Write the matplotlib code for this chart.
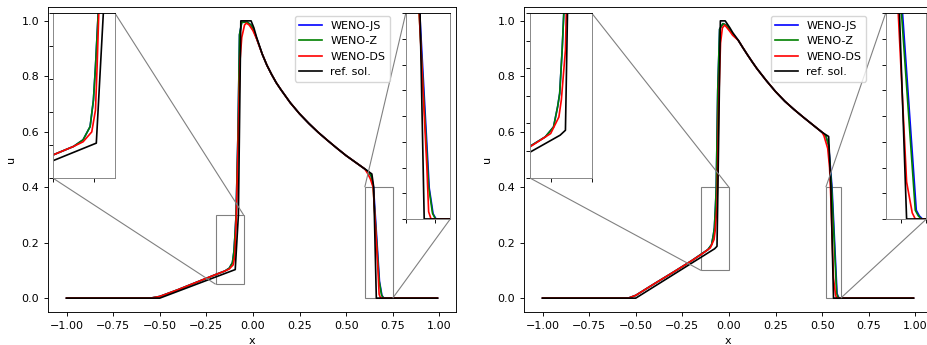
import matplotlib
matplotlib.use("Agg")
import matplotlib.pyplot as plt
import numpy as np
from mpl_toolkits.axes_grid1.inset_locator import mark_inset

plt.rcParams['font.size'] = 8
plt.rcParams['lines.linewidth'] = 1.2
plt.rcParams['axes.linewidth'] = 0.65
plt.rcParams['xtick.major.size'] = 2.8
plt.rcParams['ytick.major.size'] = 2.8
plt.rcParams['xtick.major.width'] = 0.65
plt.rcParams['ytick.major.width'] = 0.65

# ---- case 1 (left panel) ----
# shared rarefaction part of the numerical solutions
rare1_x = [0.05, 0.075, 0.1, 0.125, 0.15, 0.2, 0.25, 0.3, 0.35, 0.4, 0.45, 0.5, 0.55, 0.6]
rare1_u = [0.88, 0.84, 0.807, 0.777, 0.752, 0.705, 0.665, 0.63, 0.598, 0.569, 0.541, 0.514, 0.49, 0.466]

ref1_x = [-1.0, -0.5, -0.095, -0.078, -0.065, -0.01, 0.005, 0.02] + rare1_x + [0.638, 0.648, 0.662, 0.99]
ref1_u = [0.0, 0.0, 0.103, 0.3, 1.0, 1.0, 0.975, 0.94] + rare1_u + [0.448, 0.4, 0.0, 0.0]

js1_x = [-1.0, -0.55, -0.5, -0.4, -0.3, -0.2, -0.15, -0.127, -0.11, -0.102, -0.097, -0.0904, -0.08, -0.072,
         -0.06, -0.03, -0.01, 0.01] + rare1_x + [0.62, 0.635, 0.647, 0.679, 0.692, 0.702, 0.99]
js1_u = [0.0, 0.0, 0.006, 0.031, 0.058, 0.085, 0.098, 0.108, 0.128, 0.168, 0.219, 0.3, 0.6, 0.95,
         0.995, 0.995, 0.985, 0.955] + rare1_u + [0.455, 0.44, 0.4, 0.06, 0.01, 0.0, 0.0]

z1_x = [-1.0, -0.55, -0.5, -0.4, -0.3, -0.2, -0.15, -0.127, -0.11, -0.102, -0.097, -0.0904, -0.08, -0.072,
        -0.06, -0.03, -0.01, 0.01] + rare1_x + [0.62, 0.635, 0.645, 0.677, 0.69, 0.70, 0.99]
z1_u = [0.0, 0.0, 0.006, 0.031, 0.058, 0.085, 0.098, 0.108, 0.128, 0.168, 0.219, 0.3, 0.6, 0.95,
        0.995, 0.995, 0.985, 0.955] + rare1_u + [0.455, 0.44, 0.4, 0.063, 0.011, 0.0, 0.0]

ds1_x = [-1.0, -0.55, -0.5, -0.4, -0.3, -0.2, -0.15, -0.127, -0.106, -0.097, -0.093, -0.089, -0.08, -0.07,
         -0.06, -0.045, -0.035, -0.02, 0.0, 0.02] + rare1_x + [0.615, 0.63, 0.645, 0.671, 0.677, 0.685, 0.99]
ds1_u = [0.0, 0.0, 0.006, 0.031, 0.058, 0.085, 0.098, 0.105, 0.12, 0.153, 0.22, 0.3, 0.55, 0.85,
         0.94, 0.985, 0.992, 0.985, 0.965, 0.935] + rare1_u + [0.45, 0.43, 0.4, 0.10, 0.014, 0.0, 0.0]

# ---- case 2 (right panel) ----
rare2_x = [0.05, 0.075, 0.1, 0.125, 0.15, 0.2, 0.25, 0.3, 0.35, 0.4, 0.45, 0.5]
rare2_u = [0.93, 0.903, 0.877, 0.852, 0.828, 0.785, 0.745, 0.71, 0.68, 0.652, 0.625, 0.598]

ref2_x = [-1.0, -0.5, -0.077, -0.064, -0.059, -0.046, -0.02, 0.005, 0.02] + rare2_x + [0.535, 0.547, 0.561, 0.99]
ref2_u = [0.0, 0.0, 0.178, 0.187, 0.4, 1.0, 1.0, 0.975, 0.958] + rare2_u + [0.583, 0.4, 0.0, 0.0]

js2_x = [-1.0, -0.54, -0.5, -0.4, -0.3, -0.2, -0.15, -0.113, -0.093, -0.083, -0.078, -0.072, -0.068,
         -0.06, -0.05, -0.032, -0.015, 0.005, 0.02] + rare2_x + [0.52, 0.535, 0.547, 0.553, 0.58, 0.586, 0.592, 0.99]
js2_u = [0.0, 0.0, 0.01, 0.052, 0.093, 0.135, 0.158, 0.175, 0.193, 0.23, 0.254, 0.333, 0.4,
         0.75, 0.97, 0.99, 0.985, 0.968, 0.953] + rare2_u + [0.585, 0.55, 0.45, 0.4, 0.017, 0.006, 0.0, 0.0]

z2_x = [-1.0, -0.54, -0.5, -0.4, -0.3, -0.2, -0.15, -0.113, -0.093, -0.083, -0.078, -0.072, -0.068,
        -0.06, -0.05, -0.032, -0.015, 0.005, 0.02] + rare2_x + [0.52, 0.535, 0.545, 0.551, 0.578, 0.584, 0.59, 0.99]
z2_u = [0.0, 0.0, 0.01, 0.052, 0.093, 0.135, 0.158, 0.175, 0.193, 0.23, 0.254, 0.333, 0.4,
        0.75, 0.97, 0.99, 0.985, 0.968, 0.953] + rare2_u + [0.585, 0.55, 0.45, 0.4, 0.017, 0.006, 0.0, 0.0]

ds2_x = [-1.0, -0.54, -0.5, -0.4, -0.3, -0.2, -0.15, -0.1, -0.08, -0.074, -0.064, -0.062,
         -0.055, -0.045, -0.035, -0.023, -0.01, 0.005, 0.02] + rare2_x + [0.51, 0.53, 0.54, 0.5446, 0.561, 0.572, 0.578, 0.99]
ds2_u = [0.0, 0.0, 0.01, 0.052, 0.093, 0.135, 0.157, 0.181, 0.211, 0.242, 0.333, 0.4,
         0.7, 0.92, 0.975, 0.985, 0.975, 0.962, 0.948] + rare2_u + [0.585, 0.54, 0.47, 0.4, 0.072, 0.012, 0.0, 0.0]

labels = ['WENO-JS', 'WENO-Z', 'WENO-DS', 'ref. sol.']
colors = ['b', 'g', 'r', 'k']

cases = [
    dict(series=[(js1_x, js1_u), (z1_x, z1_u), (ds1_x, ds1_u), (ref1_x, ref1_u)],
         pos=[48 / 927, 33 / 345, 408 / 927, 305 / 345],
         ins=[([0.012, 0.439, 0.152, 0.541], (-0.2, -0.05), (0.05, 0.3), [-0.2, -0.1], 1, 3),
              ([0.877, 0.305, 0.109, 0.675], (0.6, 0.75), (0.0, 0.4), [0.6, 0.7], 2, 4)]),
    dict(series=[(js2_x, js2_u), (z2_x, z2_u), (ds2_x, ds2_u), (ref2_x, ref2_u)],
         pos=[524 / 927, 33 / 345, 408 / 927, 305 / 345],
         ins=[([0.015, 0.439, 0.151, 0.541], (-0.15, 0.0), (0.1, 0.4), [-0.1, 0.0], 1, 3),
              ([0.8865, 0.305, 0.1, 0.675], (0.52, 0.6), (0.0, 0.4), [0.55, 0.6], 2, 4)]),
]

fig = plt.figure(figsize=(9.27, 3.45), dpi=100)

for case in cases:
    ax = fig.add_axes(case['pos'])
    for (xs, us), c, lab in zip(case['series'], colors, labels):
        ax.plot(xs, us, color=c, label=lab)
    ax.set_xlim(-1.0995, 1.0895)
    ax.set_ylim(-0.05, 1.05)
    ax.set_xticks([-1.0, -0.75, -0.5, -0.25, 0.0, 0.25, 0.5, 0.75, 1.0])
    ax.set_yticks([0.0, 0.2, 0.4, 0.6, 0.8, 1.0])
    ax.set_xlabel('x')
    ax.set_ylabel('u')
    ax.legend(loc='upper right', bbox_to_anchor=(0.838, 0.97), borderaxespad=0)

    for rect, xl, yl, xt, l1, l2 in case['ins']:
        axins = ax.inset_axes(rect)
        for (xs, us), c in zip(case['series'], colors):
            axins.plot(xs, us, color=c)
        axins.set_xlim(*xl)
        axins.set_ylim(*yl)
        axins.set_xticks(xt)
        axins.set_yticks(np.arange(yl[0], yl[1] + 1e-9, 0.05))
        axins.set_xticklabels([])
        axins.set_yticklabels([])
        for side in ['left', 'right', 'bottom']:
            axins.spines[side].set_color('0.5')
        mark_inset(ax, axins, loc1=l1, loc2=l2, fc='none', ec='0.5', lw=0.8)

fig.savefig('out.png', dpi=100)
